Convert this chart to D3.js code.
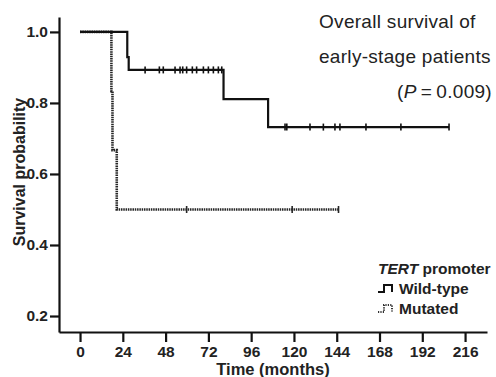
<!DOCTYPE html>
<html>
<head>
<meta charset="utf-8">
<script src="https://cdn.jsdelivr.net/npm/d3@7"></script>
<style>
  body { margin: 0; background: #fff; }
  svg { font-family: "Liberation Sans", Arial, sans-serif; }
</style>
</head>
<body>
<div id="chart"></div>
<script>
// Kaplan-Meier steps: [month, survival]
const wildTypeSteps = [[0, 1.0], [26.5, 0.929], [27.3, 0.893], [80.5, 0.811], [105.5, 0.732], [207, 0.732]];
const wildTypeCensor = [36.5, 44.5, 46.7, 53.3, 56.1, 57.6, 59.8, 63, 65.4, 69.2, 72, 74.8, 77.6, 79.5,
  115, 116, 129, 136.5, 143, 145.8, 160.4, 180, 207];
const mutatedSteps = [[0, 1.0], [17.6, 0.833], [18.2, 0.667], [20.6, 0.5], [145, 0.5]];
const mutatedCensor = [59.8, 119, 145];

const xTicks = [0, 24, 48, 72, 96, 120, 144, 168, 192, 216];
const yTicks = [0.2, 0.4, 0.6, 0.8, 1.0];

const W = 496, H = 377;
const plotLeft = 59, plotRight = 487, plotTop = 17, plotBottom = 332;

const svg = d3.select('#chart').append('svg')
  .attr('width', W)
  .attr('height', H);

const x = d3.scaleLinear().domain([-11.8, 228.3]).range([plotLeft, plotRight]);
const y = d3.scaleLinear().domain([0.155, 1.042]).range([plotBottom, plotTop]);

// axes
const xAxis = svg.append('g')
  .attr('transform', `translate(0,${plotBottom})`)
  .call(d3.axisBottom(x).tickValues(xTicks).tickSize(10).tickPadding(4).tickSizeOuter(0));
const yAxis = svg.append('g')
  .attr('transform', `translate(${plotLeft},0)`)
  .call(d3.axisLeft(y).tickValues(yTicks).tickSize(9).tickPadding(2).tickFormat(d3.format('.1f')).tickSizeOuter(0));

[xAxis, yAxis].forEach((g) => {
  g.select('.domain').attr('stroke', '#111').attr('stroke-width', 2.2);
  g.selectAll('.tick line').attr('stroke', '#111').attr('stroke-width', 2.2);
  g.selectAll('.tick text')
    .attr('fill', '#222')
    .style('font-size', '15.5px')
    .style('font-weight', 'bold');
});

// step curves
const step = d3.line()
  .x((d) => x(d[0]))
  .y((d) => y(d[1]))
  .curve(d3.curveStepAfter);

function lastValue(steps, t) {
  let v = steps[0][1];
  steps.forEach((s) => { if (s[0] <= t) v = s[1]; });
  return v;
}

function drawCurve(steps, censor, color, dash, w) {
  svg.append('path')
    .datum(steps)
    .attr('d', step)
    .attr('fill', 'none')
    .attr('stroke', color)
    .attr('stroke-width', w)
    .attr('stroke-dasharray', dash);
  svg.append('g')
    .selectAll('line')
    .data(censor)
    .enter()
    .append('line')
    .attr('x1', (d) => x(d))
    .attr('x2', (d) => x(d))
    .attr('y1', (d) => y(lastValue(steps, d)) - 3.5)
    .attr('y2', (d) => y(lastValue(steps, d)) + 3.5)
    .attr('stroke', color)
    .attr('stroke-width', 1.6);
}

drawCurve(mutatedSteps, mutatedCensor, '#262626', '1.5,0.8', 2.6);
drawCurve(wildTypeSteps, wildTypeCensor, '#111', null, 2.2);

// axis titles
svg.append('text')
  .attr('x', 273)
  .attr('y', 375)
  .attr('text-anchor', 'middle')
  .style('font-size', '16.5px')
  .style('font-weight', 'bold')
  .attr('fill', '#222')
  .text('Time (months)');

svg.append('text')
  .attr('transform', 'translate(25,172) rotate(-90)')
  .attr('text-anchor', 'middle')
  .style('font-size', '16px')
  .style('font-weight', 'bold')
  .attr('fill', '#222')
  .text('Survival probability');

// annotation
const note = svg.append('g')
  .style('font-size', '19px')
  .style('letter-spacing', '0.3px')
  .attr('fill', '#222');
note.append('text').attr('x', 319).attr('y', 28).text('Overall survival of');
note.append('text').attr('x', 319).attr('y', 63).text('early-stage patients');
const p = note.append('text').attr('x', 492).attr('y', 98).attr('text-anchor', 'end');
p.append('tspan').text('(');
p.append('tspan').style('font-style', 'italic').text('P');
p.append('tspan').text('\u2009=\u20090.009)');

// legend
const lg = svg.append('g').style('font-size', '15.5px').style('font-weight', 'bold').attr('fill', '#222');
const t1 = lg.append('text').attr('x', 378).attr('y', 274);
t1.append('tspan').style('font-style', 'italic').text('TERT');
t1.append('tspan').text(' promoter');
lg.append('text').attr('x', 399).attr('y', 294).text('Wild-type');
lg.append('text').attr('x', 399).attr('y', 314).text('Mutated');

lg.append('path')
  .attr('d', 'M378,292H384V285H392V292')
  .attr('fill', 'none')
  .attr('stroke', '#111')
  .attr('stroke-width', 2);
lg.append('path')
  .attr('d', 'M378,312H384V305H392V312')
  .attr('fill', 'none')
  .attr('stroke', '#333')
  .attr('stroke-width', 2)
  .attr('stroke-dasharray', '1.2,1.2');
</script>
</body>
</html>
